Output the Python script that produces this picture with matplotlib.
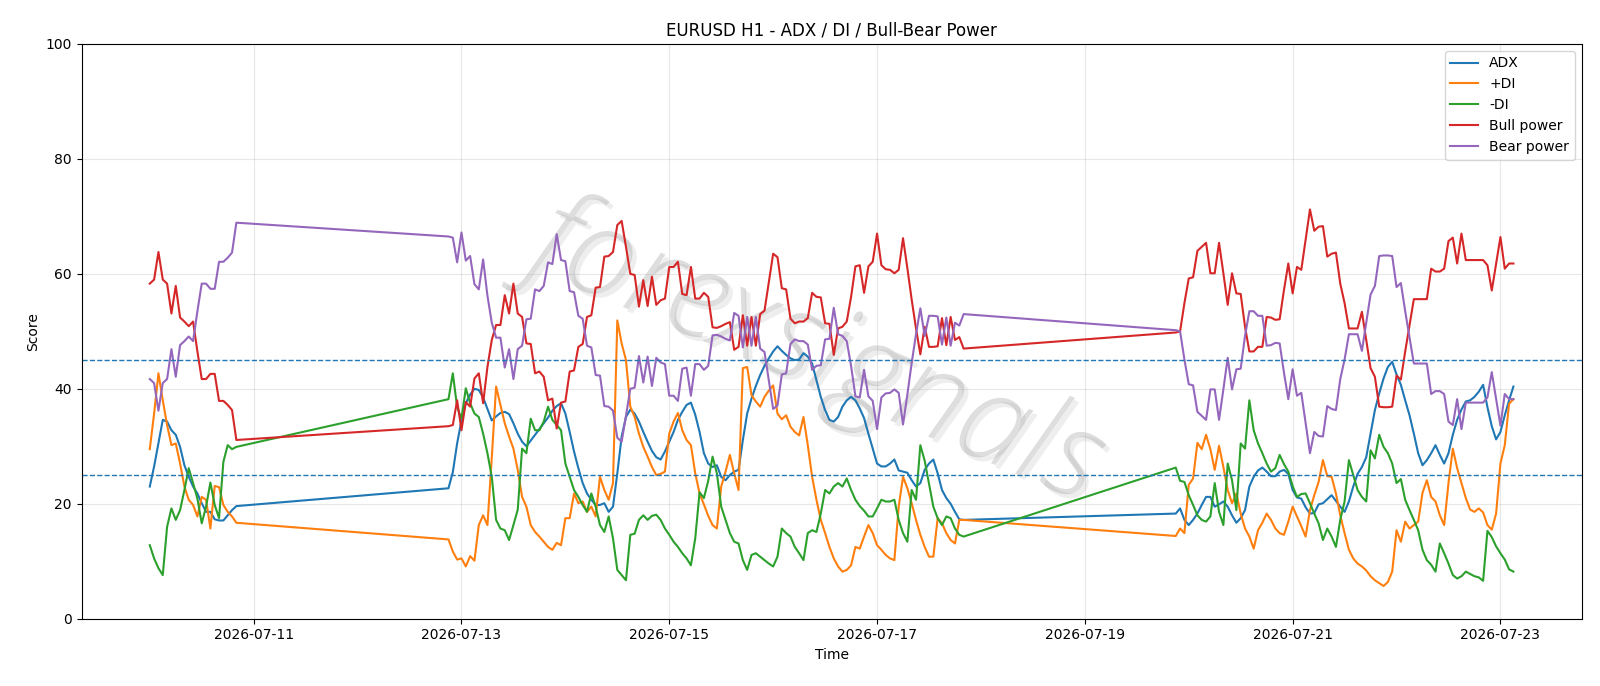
import pandas as pd
import matplotlib
matplotlib.use("Agg")
import matplotlib.pyplot as plt
import matplotlib.dates as mdates
import matplotlib.patheffects as pe

# hourly bars, three trading blocks (weekend gaps are just joined by straight lines)
segment_starts = ["2026-07-10 00:00", "2026-07-12 21:00", "2026-07-19 21:00"]
segment_lengths = [21, 120, 79]

adx = [
    # 07-10
    23.0, 26.5, 30.5, 34.6, 34.3, 32.8, 32.0, 29.9, 26.7, 24.7, 23.0, 21.8, 20.1, 18.6, 18.6, 17.3, 17.1, 17.1, 18.0, 18.9, 19.6,
    # 07-12 21:00 -> 07-17 20:00
    22.7, 25.5, 30.5, 34.5, 37.5, 39.0, 40.0, 39.8, 38.5, 36.5,
    34.5, 35.2, 35.8, 36.0, 35.6, 34.0, 32.2, 30.8, 30.0, 31.0,
    32.0, 33.0, 34.0, 35.0, 36.2, 37.0, 37.5, 35.7, 32.5, 29.1,
    26.2, 23.6, 21.8, 20.7, 19.8, 19.8, 20.1, 18.6, 19.5, 25.3,
    31.7, 35.1, 36.4, 35.7, 34.3, 32.5, 30.8, 29.2, 28.1, 27.7,
    29.1, 30.8, 32.5, 34.6, 36.0, 37.2, 37.6, 35.5, 32.5, 28.8,
    27.0, 26.4, 26.7, 24.7, 24.1, 25.0, 25.6, 25.9, 31.1, 35.7,
    38.3, 40.5, 42.4, 44.0, 45.3, 46.5, 47.4, 46.6, 45.9, 45.3,
    45.0, 45.1, 46.2, 45.6, 44.4, 41.5, 38.6, 36.3, 34.6, 34.3,
    35.1, 36.9, 38.0, 38.6, 38.0, 36.6, 34.9, 32.2, 29.6, 27.0,
    26.5, 26.5, 27.0, 27.7, 25.8, 25.6, 25.4, 24.1, 23.0, 23.6,
    25.9, 27.0, 27.7, 25.3, 22.4, 21.0, 20.0, 18.6, 17.3, 17.2,
    # 07-19 21:00 -> 07-23 03:00
    18.3, 19.2, 17.2, 16.3, 17.2, 18.3, 19.8, 21.2, 21.2, 19.5,
    19.9, 20.4, 19.5, 18.0, 16.7, 17.5, 18.9, 23.0, 24.7, 25.8,
    26.3, 25.6, 24.8, 24.8, 25.6, 25.9, 25.2, 22.4, 21.1, 20.9,
    19.4, 18.3, 18.4, 19.9, 20.1, 20.8, 21.5, 20.5, 19.5, 18.6,
    20.4, 23.0, 25.2, 26.4, 28.1, 32.2, 36.3, 39.2, 41.8, 43.8,
    44.7, 42.5, 40.7, 38.0, 35.4, 32.2, 28.8, 26.7, 27.6, 28.8,
    30.2, 28.5, 27.0, 28.8, 32.0, 34.6, 36.4, 37.8, 38.0, 38.6,
    39.5, 40.7, 36.8, 33.5, 31.2, 32.5, 35.4, 38.0, 40.4,
]

plus_di = [
    29.5, 35.7, 42.7, 38.0, 33.7, 30.2, 30.5, 27.0, 23.0, 20.7, 19.8, 17.8, 21.2, 20.7, 15.7, 23.1, 22.9, 19.8, 18.6, 17.8, 16.7,
    13.8, 11.7, 10.3, 10.5, 9.1, 10.9, 10.1, 16.3, 18.0, 16.3,
    28.0, 40.4, 37.2, 34.0, 31.7, 29.6, 25.9, 21.2, 19.5, 16.3,
    15.1, 14.3, 13.4, 12.5, 12.0, 13.2, 12.8, 17.5, 17.5, 21.8,
    20.1, 20.4, 18.6, 19.5, 17.8, 24.7, 22.4, 20.7, 23.6, 51.9,
    47.9, 45.0, 36.9, 35.1, 32.2, 29.9, 28.2, 26.4, 25.0, 25.2,
    25.6, 32.2, 34.3, 35.8, 32.8, 31.1, 30.2, 25.3, 21.8, 19.9,
    17.9, 16.3, 15.7, 23.0, 25.6, 28.5, 25.3, 22.4, 43.6, 43.8,
    38.9, 37.8, 36.9, 38.6, 39.7, 40.6, 35.7, 34.7, 35.4, 33.4,
    32.5, 31.9, 35.1, 30.2, 24.7, 20.7, 17.2, 14.9, 12.5, 10.5,
    9.1, 8.2, 8.5, 9.3, 12.5, 12.2, 14.3, 16.3, 14.9, 12.8,
    12.0, 11.1, 10.5, 10.2, 19.5, 24.7, 22.7, 20.1, 17.2, 14.6,
    12.5, 10.8, 10.8, 17.5, 16.6, 14.9, 13.7, 13.1, 17.2, 17.2,
    14.4, 15.7, 14.9, 23.3, 24.4, 30.6, 29.5, 32.0, 29.5, 25.9,
    30.1, 26.4, 22.4, 20.1, 21.8, 18.3, 15.7, 14.3, 12.2, 15.4,
    16.7, 18.3, 17.2, 15.7, 14.9, 14.6, 16.9, 19.5, 17.8, 16.1,
    14.3, 18.9, 21.5, 23.8, 27.6, 24.8, 24.7, 21.8, 18.0, 14.9,
    12.0, 10.5, 9.6, 9.1, 8.4, 7.4, 6.7, 6.2, 5.7, 6.4,
    8.2, 15.4, 13.4, 16.9, 15.7, 16.3, 16.9, 21.9, 24.1, 21.2,
    20.4, 18.0, 16.3, 23.6, 29.6, 26.2, 23.6, 21.0, 19.0, 18.6,
    19.2, 18.5, 16.3, 15.5, 18.3, 27.0, 30.2, 37.4, 38.2,
]

minus_di = [
    12.8, 10.5, 8.8, 7.6, 16.0, 19.2, 17.2, 18.9, 22.4, 26.2, 23.6, 20.9, 16.6, 19.5, 23.7, 19.8, 17.5, 27.3, 30.2, 29.5, 29.9,
    38.2, 42.7, 36.8, 34.8, 40.1, 37.5, 35.7, 35.1, 32.2, 28.8,
    24.7, 17.2, 15.7, 15.4, 13.7, 16.3, 19.0, 29.6, 28.8, 34.8,
    32.8, 32.8, 34.3, 36.9, 34.6, 33.7, 32.8, 27.0, 24.7, 22.4,
    21.2, 19.8, 18.6, 21.8, 19.5, 16.3, 15.1, 17.8, 14.0, 8.5,
    7.6, 6.7, 14.6, 14.8, 17.2, 18.0, 17.2, 17.9, 18.1, 17.2,
    15.7, 14.6, 13.4, 12.5, 11.4, 10.5, 9.3, 14.0, 22.0, 21.0,
    24.0, 28.2, 25.3, 19.5, 17.2, 14.9, 13.4, 13.1, 10.2, 8.5,
    11.1, 11.4, 10.8, 10.2, 9.6, 9.1, 10.8, 15.7, 14.9, 14.3,
    12.5, 11.4, 10.2, 14.9, 15.4, 15.1, 18.3, 22.4, 21.8, 23.0,
    23.6, 23.0, 24.4, 22.4, 20.7, 19.6, 18.8, 17.8, 17.8, 19.2,
    20.7, 20.4, 20.4, 20.7, 17.2, 14.9, 13.4, 22.4, 20.7, 30.2,
    27.5, 23.5, 19.5, 17.5, 16.3, 17.8, 17.5, 15.7, 14.6, 14.3,
    26.3, 24.0, 23.8, 21.5, 19.8, 18.0, 17.2, 16.9, 17.8, 23.6,
    18.6, 16.3, 27.0, 24.1, 18.9, 30.5, 29.6, 38.0, 32.8, 30.5,
    28.8, 27.0, 25.6, 26.2, 28.5, 26.9, 25.6, 23.1, 21.2, 21.7,
    21.8, 20.1, 18.3, 16.6, 13.7, 15.7, 14.3, 12.5, 17.2, 20.4,
    27.6, 25.0, 22.4, 21.2, 20.4, 29.3, 27.9, 32.0, 29.9, 28.8,
    27.0, 23.6, 24.3, 20.7, 18.9, 17.2, 15.4, 12.0, 10.2, 9.4,
    8.2, 13.1, 11.4, 9.6, 7.6, 7.0, 7.4, 8.2, 7.8, 7.4,
    7.2, 6.6, 15.3, 14.2, 12.6, 11.4, 10.3, 8.6, 8.2,
]

bull_power = [
    58.3, 59.0, 63.8, 59.0, 58.3, 53.1, 57.9, 52.4, 51.7, 50.9, 51.7, 46.5, 41.7, 41.7, 42.6, 42.6, 37.9, 37.9, 37.2, 36.3, 31.1,
    33.5, 33.7, 38.0, 32.8, 37.7, 36.9, 41.8, 42.7, 37.5, 43.8,
    48.5, 51.1, 51.1, 56.3, 53.1, 58.3, 53.1, 52.5, 47.9, 47.8,
    42.7, 43.0, 42.1, 38.0, 38.3, 33.1, 37.6, 37.8, 43.0, 43.2,
    47.3, 47.8, 52.5, 52.8, 57.6, 57.7, 63.0, 63.1, 63.8, 68.5,
    69.2, 64.7, 60.0, 59.8, 54.3, 58.9, 54.4, 59.5, 54.6, 55.4,
    55.7, 61.2, 61.2, 62.1, 56.5, 56.3, 61.2, 55.7, 55.7, 56.7,
    56.0, 50.7, 50.6, 50.9, 51.3, 51.6, 46.8, 47.3, 52.8, 47.5,
    52.5, 47.5, 53.0, 53.6, 58.5, 63.5, 62.9, 57.5, 57.3, 52.2,
    51.4, 51.7, 51.7, 52.3, 56.7, 56.0, 55.9, 51.4, 51.3, 45.9,
    50.5, 50.8, 51.7, 56.0, 61.3, 61.5, 56.7, 61.3, 62.1, 67.0,
    61.5, 60.8, 60.7, 60.1, 60.7, 66.2, 61.0, 55.5, 50.5, 46.0,
    50.8, 47.3, 47.3, 47.4, 52.3, 47.6, 52.5, 48.5, 49.0, 47.0,
    49.8, 50.0, 54.9, 59.2, 59.4, 64.0, 64.7, 65.4, 60.1, 60.1,
    65.4, 60.1, 54.6, 60.1, 56.6, 56.5, 50.8, 46.5, 46.5, 47.3,
    47.3, 52.5, 52.4, 52.0, 52.1, 57.2, 61.8, 56.6, 61.2, 60.7,
    65.9, 71.2, 67.5, 68.2, 68.3, 63.0, 63.5, 63.7, 58.3, 54.9,
    50.5, 50.5, 50.5, 53.4, 48.5, 43.6, 42.1, 36.9, 36.8, 36.8,
    36.9, 42.3, 41.6, 46.5, 51.0, 55.6, 55.6, 55.6, 55.6, 60.9,
    60.4, 60.4, 60.9, 65.7, 66.3, 61.8, 67.0, 62.4, 62.4, 62.4,
    62.4, 62.4, 61.5, 57.1, 61.8, 66.4, 60.9, 61.8, 61.8,
]

bear_power = [
    41.7, 41.0, 36.2, 41.0, 41.7, 46.9, 42.1, 47.6, 48.3, 49.1, 48.3, 53.5, 58.3, 58.3, 57.4, 57.4, 62.1, 62.1, 62.8, 63.7, 68.9,
    66.5, 66.3, 62.0, 67.2, 62.3, 63.1, 58.2, 57.3, 62.5, 56.2,
    51.5, 48.9, 48.9, 43.7, 46.9, 41.7, 46.9, 47.5, 52.1, 52.2,
    57.3, 57.0, 57.9, 62.0, 61.7, 66.9, 62.4, 62.2, 57.0, 56.8,
    52.7, 52.2, 47.5, 47.2, 42.4, 42.3, 37.0, 36.9, 36.2, 31.5,
    30.8, 35.3, 40.0, 40.2, 45.7, 41.1, 45.6, 40.5, 45.4, 44.6,
    44.3, 38.8, 38.8, 37.9, 43.5, 43.7, 38.8, 44.3, 44.3, 43.3,
    44.0, 49.3, 49.4, 49.1, 48.7, 48.4, 53.2, 52.7, 47.2, 52.5,
    47.5, 52.5, 47.0, 46.4, 41.5, 36.5, 37.1, 42.5, 42.7, 47.8,
    48.6, 48.3, 48.3, 47.7, 43.3, 44.0, 44.1, 48.6, 48.7, 54.1,
    49.5, 49.2, 48.3, 44.0, 38.7, 38.5, 43.3, 38.7, 37.9, 33.0,
    38.5, 39.2, 39.3, 39.9, 39.3, 33.8, 39.0, 44.5, 49.5, 54.0,
    49.2, 52.7, 52.7, 52.6, 47.7, 52.4, 47.5, 51.5, 51.0, 53.0,
    50.2, 50.0, 45.1, 40.8, 40.6, 36.0, 35.3, 34.6, 39.9, 39.9,
    34.6, 39.9, 45.4, 39.9, 43.4, 43.5, 49.2, 53.5, 53.5, 52.7,
    52.7, 47.5, 47.6, 48.0, 47.9, 42.8, 38.2, 43.4, 38.8, 39.3,
    34.1, 28.8, 32.5, 31.8, 31.7, 37.0, 36.5, 36.3, 41.7, 45.1,
    49.5, 49.5, 49.5, 46.6, 51.5, 56.4, 57.9, 63.1, 63.2, 63.2,
    63.1, 57.7, 58.4, 53.5, 49.0, 44.4, 44.4, 44.4, 44.4, 39.1,
    39.6, 39.6, 39.1, 34.3, 33.7, 38.2, 33.0, 37.6, 37.6, 37.6,
    37.6, 37.6, 38.5, 42.9, 38.2, 33.6, 39.1, 38.2, 38.2,
]

times = []
for start, n in zip(segment_starts, segment_lengths):
    times.extend(pd.date_range(start, periods=n, freq="h"))

df = pd.DataFrame({
    "ADX": adx,
    "+DI": plus_di,
    "-DI": minus_di,
    "Bull power": bull_power,
    "Bear power": bear_power,
}, index=pd.DatetimeIndex(times))

fig, ax = plt.subplots(figsize=(16, 6.86), dpi=100)
fig.subplots_adjust(left=0.051, right=0.9885, bottom=0.098, top=0.936)

for col in df.columns:
    ax.plot(df.index, df[col], label=col, linewidth=1.5)

ax.axhline(45, linestyle="--", linewidth=1.0, color="C0")
ax.axhline(25, linestyle="--", linewidth=1.0, color="C0")

ax.set_ylim(0, 100)
ax.set_title("EURUSD H1 - ADX / DI / Bull-Bear Power")
ax.set_xlabel("Time")
ax.set_ylabel("Score")
ax.grid(True, alpha=0.3)
ax.legend(loc="upper right")

ax.xaxis.set_major_locator(mdates.DayLocator(bymonthday=range(1, 32, 2)))
ax.xaxis.set_major_formatter(mdates.DateFormatter("%Y-%m-%d"))

# watermark
ax.text(0.49, 0.46, "forexsignals", transform=ax.transAxes, rotation=-23,
        ha="center", va="center", fontsize=88, color="#9a9a9a", alpha=0.32,
        style="italic", family="Open Sans", fontweight="light", zorder=0,
        path_effects=[pe.withSimplePatchShadow(offset=(3, -3), shadow_rgbFace="#cfcfcf", alpha=0.35)])

plt.savefig("out.png", dpi=100)
